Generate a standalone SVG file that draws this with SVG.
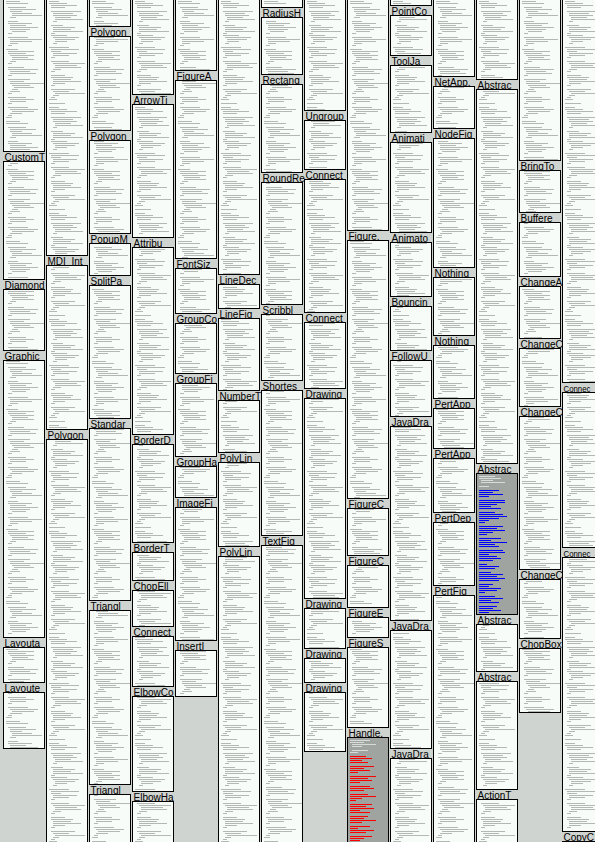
<svg xmlns="http://www.w3.org/2000/svg" width="595" height="842" viewBox="0 0 595 842">
<style>
.t{font-family:"Liberation Sans",Arial,sans-serif;font-size:10px;fill:#000}
.t9{font-family:"Liberation Sans",Arial,sans-serif;font-size:9px;fill:#000}
.b1{fill:url(#c1);stroke:#000;stroke-width:1}
.b2{fill:url(#c2);stroke:#000;stroke-width:1}
.hl{fill:#a0a4a0;stroke:#000;stroke-width:1}
.ll{fill:none;stroke:#d8dcd8;stroke-width:1}
</style>
<defs>
<pattern id="c1" patternUnits="userSpaceOnUse" x="3" y="0" width="43" height="120">
<rect width="43" height="120" fill="#f8fcf8"/>
<path fill="none" stroke="#b4b8b4" stroke-width="1" d="M3 1.5h14M3 3.5h22M5 7.5h18M7 9.5h26M7 11.5h12M9 13.5h20M9 15.5h30M7 17.5h6M5 21.5h10M5 23.5h24M7 25.5h16M7 27.5h28M7 29.5h20M9 31.5h14M5 33.5h4M5 37.5h20M7 39.5h32M7 41.5h22M7 43.5h8M5 45.5h4M3 49.5h12M5 51.5h26M5 53.5h18M7 55.5h24M9 57.5h16M9 59.5h22M7 61.5h6M5 63.5h4M5 67.5h16M5 69.5h30M7 71.5h20M7 73.5h26M5 75.5h4M5 79.5h22M7 81.5h14M7 83.5h34M9 85.5h18M11 87.5h20M9 89.5h6M7 91.5h10M5 93.5h4M5 97.5h18M7 99.5h24M7 101.5h16M5 103.5h4M5 107.5h20M7 109.5h28M9 111.5h22M7 113.5h12M5 115.5h4M3 117.5h6"/>
</pattern>
<pattern id="c2" patternUnits="userSpaceOnUse" x="3" y="0" width="43" height="106">
<rect width="43" height="106" fill="#f8fcf8"/>
<path fill="none" stroke="#b4b8b4" stroke-width="1" d="M3 1.5h10M3 3.5h18M5 5.5h26M5 7.5h14M5 11.5h30M7 13.5h20M7 15.5h24M9 17.5h16M9 19.5h28M7 21.5h4M5 25.5h12M7 27.5h22M7 29.5h18M7 31.5h30M5 33.5h4M5 35.5h16M7 37.5h26M9 39.5h20M9 41.5h12M7 43.5h4M3 47.5h20M5 49.5h28M5 51.5h10M7 53.5h24M7 55.5h16M5 57.5h4M5 61.5h18M7 63.5h32M9 65.5h22M9 67.5h26M7 69.5h8M5 71.5h4M5 75.5h14M5 77.5h22M7 79.5h18M7 81.5h28M7 83.5h12M5 85.5h4M5 89.5h24M7 91.5h16M9 93.5h30M7 95.5h6M5 97.5h4M3 99.5h8M3 103.5h16"/>
</pattern>
</defs>
<rect x="0" y="0" width="595" height="842" fill="#d0d4d0"/>

<g id="col1">
<g id="c1-top"><rect class="b1" x="3.5" y="-1.5" width="41" height="153"/></g>
<g id="c1-CustomT"><text class="t" x="4.5" y="161">CustomT</text><rect class="b1" x="3.5" y="161.5" width="41" height="118"/></g>
<g id="c1-Diamond"><text class="t" x="4.5" y="289">Diamond</text><rect class="b1" x="3.5" y="289.5" width="41" height="61"/></g>
<g id="c1-Graphic"><text class="t" x="4.5" y="360">Graphic</text><rect class="b1" x="3.5" y="360.5" width="41" height="277"/></g>
<g id="c1-Layouta"><text class="t" x="4.5" y="647">Layouta</text><rect class="b1" x="3.5" y="647.5" width="41" height="35"/></g>
<g id="c1-Layoute"><text class="t" x="4.5" y="692">Layoute</text><rect class="b1" x="3.5" y="692.5" width="41" height="56"/></g>
</g>

<g id="col2">
<g id="c2-top"><rect class="b2" x="46.5" y="-1.5" width="41" height="257"/></g>
<g id="c2-MDI_Int"><text class="t" x="47.5" y="265">MDI_Int</text><rect class="b2" x="46.5" y="265.5" width="41" height="164"/></g>
<g id="c2-Polygon"><text class="t" x="47.5" y="439">Polygon</text><rect class="b2" x="46.5" y="439.5" width="41" height="405"/></g>
</g>

<g id="col3">
<g id="c3-top"><rect class="b1" x="89.5" y="-1.5" width="41" height="28"/></g>
<g id="c3-Polygon1"><text class="t" x="90.5" y="36">Polygon</text><rect class="b1" x="89.5" y="36.5" width="41" height="94"/></g>
<g id="c3-Polygon2"><text class="t" x="90.5" y="140">Polygon</text><rect class="b1" x="89.5" y="140.5" width="41" height="93"/></g>
<g id="c3-PopupM"><text class="t" x="90.5" y="243">PopupM</text><rect class="b1" x="89.5" y="243.5" width="41" height="32"/></g>
<g id="c3-SplitPa"><text class="t" x="90.5" y="285">SplitPa</text><rect class="b1" x="89.5" y="285.5" width="41" height="133"/></g>
<g id="c3-Standar"><text class="t" x="90.5" y="428">Standar</text><rect class="b1" x="89.5" y="428.5" width="41" height="172"/></g>
<g id="c3-Triangl1"><text class="t" x="90.5" y="610">Triangl</text><rect class="b1" x="89.5" y="610.5" width="41" height="174"/></g>
<g id="c3-Triangl2"><text class="t" x="90.5" y="794">Triangl</text><rect class="b1" x="89.5" y="794.5" width="41" height="50"/></g>
</g>

<g id="col4">
<g id="c4-top"><rect class="b2" x="132.5" y="-1.5" width="41" height="96"/></g>
<g id="c4-ArrowTi"><text class="t" x="133.5" y="104">ArrowTi</text><rect class="b2" x="132.5" y="104.5" width="41" height="133"/></g>
<g id="c4-Attribu"><text class="t" x="133.5" y="247">Attribu</text><rect class="b2" x="132.5" y="247.5" width="41" height="187"/></g>
<g id="c4-BorderD"><text class="t" x="133.5" y="444">BorderD</text><rect class="b2" x="132.5" y="444.5" width="41" height="98"/></g>
<g id="c4-BorderT"><text class="t" x="133.5" y="552">BorderT</text><rect class="b2" x="132.5" y="552.5" width="41" height="28"/></g>
<g id="c4-ChopEll"><text class="t" x="133.5" y="590">ChopEll</text><rect class="b2" x="132.5" y="590.5" width="41" height="36"/></g>
<g id="c4-Connect"><text class="t" x="133.5" y="636">Connect</text><rect class="b2" x="132.5" y="636.5" width="41" height="50"/></g>
<g id="c4-ElbowCo"><text class="t" x="133.5" y="696">ElbowCo</text><rect class="b2" x="132.5" y="696.5" width="41" height="95"/></g>
<g id="c4-ElbowHa"><text class="t" x="133.5" y="801">ElbowHa</text><rect class="b2" x="132.5" y="801.5" width="41" height="43"/></g>
</g>

<g id="col5">
<g id="c5-top"><rect class="b1" x="175.5" y="-1.5" width="41" height="72"/></g>
<g id="c5-FigureA"><text class="t" x="176.5" y="80">FigureA</text><rect class="b1" x="175.5" y="80.5" width="41" height="178"/></g>
<g id="c5-FontSiz"><text class="t" x="176.5" y="268">FontSiz</text><rect class="b1" x="175.5" y="268.5" width="41" height="45"/></g>
<g id="c5-GroupCo"><text class="t" x="176.5" y="323">GroupCo</text><rect class="b1" x="175.5" y="323.5" width="41" height="50"/></g>
<g id="c5-GroupFi"><text class="t" x="176.5" y="383">GroupFi</text><rect class="b1" x="175.5" y="383.5" width="41" height="73"/></g>
<g id="c5-GroupHa"><text class="t" x="176.5" y="466">GroupHa</text><rect class="b1" x="175.5" y="466.5" width="41" height="31"/></g>
<g id="c5-ImageFi"><text class="t" x="176.5" y="507">ImageFi</text><rect class="b1" x="175.5" y="507.5" width="41" height="133"/></g>
<g id="c5-InsertI"><text class="t" x="176.5" y="650">InsertI</text><rect class="b1" x="175.5" y="650.5" width="41" height="46"/></g>
</g>

<g id="col6">
<g id="c6-top"><rect class="b2" x="218.5" y="-1.5" width="41" height="276"/></g>
<g id="c6-LineDec"><text class="t" x="219.5" y="284">LineDec</text><rect class="b2" x="218.5" y="284.5" width="41" height="24"/></g>
<g id="c6-LineFig"><text class="t" x="219.5" y="318">LineFig</text><rect class="b2" x="218.5" y="318.5" width="41" height="72"/></g>
<g id="c6-NumberT"><text class="t" x="219.5" y="400">NumberT</text><rect class="b2" x="218.5" y="400.5" width="41" height="52"/></g>
<g id="c6-PolyLin1"><text class="t" x="219.5" y="462">PolyLin</text><rect class="b2" x="218.5" y="462.5" width="41" height="84"/></g>
<g id="c6-PolyLin2"><text class="t" x="219.5" y="556">PolyLin</text><rect class="b2" x="218.5" y="556.5" width="41" height="288"/></g>
</g>

<g id="col7">
<g id="c7-top"><rect class="b1" x="261.5" y="-1.5" width="41" height="9"/></g>
<g id="c7-RadiusH"><text class="t" x="262.5" y="17">RadiusH</text><rect class="b1" x="261.5" y="17.5" width="41" height="57"/></g>
<g id="c7-Rectang"><text class="t" x="262.5" y="84">Rectang</text><rect class="b1" x="261.5" y="84.5" width="41" height="88"/></g>
<g id="c7-RoundRe"><text class="t" x="262.5" y="182">RoundRe</text><rect class="b1" x="261.5" y="182.5" width="41" height="122"/></g>
<g id="c7-Scribbl"><text class="t" x="262.5" y="314">Scribbl</text><rect class="b1" x="261.5" y="314.5" width="41" height="66"/></g>
<g id="c7-Shortes"><text class="t" x="262.5" y="390">Shortes</text><rect class="b1" x="261.5" y="390.5" width="41" height="145"/></g>
<g id="c7-TextFig"><text class="t" x="262.5" y="545">TextFig</text><rect class="b1" x="261.5" y="545.5" width="41" height="299"/></g>
</g>

<g id="col8">
<g id="c8-top"><rect class="b2" x="304.5" y="-1.5" width="41" height="112"/></g>
<g id="c8-Ungroup"><text class="t" x="305.5" y="120">Ungroup</text><rect class="b2" x="304.5" y="120.5" width="41" height="49"/></g>
<g id="c8-Connect1"><text class="t" x="305.5" y="179">Connect</text><rect class="b2" x="304.5" y="179.5" width="41" height="133"/></g>
<g id="c8-Connect2"><text class="t" x="305.5" y="322">Connect</text><rect class="b2" x="304.5" y="322.5" width="41" height="66"/></g>
<g id="c8-Drawing1"><text class="t" x="305.5" y="398">Drawing</text><rect class="b2" x="304.5" y="398.5" width="41" height="200"/></g>
<g id="c8-Drawing2"><text class="t" x="305.5" y="608">Drawing</text><rect class="b2" x="304.5" y="608.5" width="41" height="40"/></g>
<g id="c8-Drawing3"><text class="t" x="305.5" y="658">Drawing</text><rect class="b2" x="304.5" y="658.5" width="41" height="24"/></g>
<g id="c8-Drawing4"><text class="t" x="305.5" y="692">Drawing</text><rect class="b2" x="304.5" y="692.5" width="41" height="59"/></g>
</g>

<g id="col9">
<g id="c9-top"><rect class="b1" x="347.5" y="-1.5" width="41" height="232"/></g>
<g id="c9-Figure"><text class="t" x="348.5" y="240">Figure.</text><rect class="b1" x="347.5" y="240.5" width="41" height="258"/></g>
<g id="c9-FigureC1"><text class="t" x="348.5" y="508">FigureC</text><rect class="b1" x="347.5" y="508.5" width="41" height="47"/></g>
<g id="c9-FigureC2"><text class="t" x="348.5" y="565">FigureC</text><rect class="b1" x="347.5" y="565.5" width="41" height="42"/></g>
<g id="c9-FigureE"><text class="t" x="348.5" y="617">FigureE</text><rect class="b1" x="347.5" y="617.5" width="41" height="20"/></g>
<g id="c9-FigureS"><text class="t" x="348.5" y="647">FigureS</text><rect class="b1" x="347.5" y="647.5" width="41" height="80"/></g>
<g id="c9-Handle"><text class="t" x="348.5" y="737">Handle.</text><rect class="hl" x="347.5" y="737.5" width="41" height="107"/>
<path class="ll" d="M350 740.5h20M350 742.5h14M352 744.5h24M352 746.5h10M352 750.5h16M350 752.5h8"/>
<path fill="none" stroke="#ff0000" stroke-width="1" d="M350 756.5h16M350 758.5h22M350 760.5h12M350 762.5h18M350 766.5h24M350 768.5h14M350 770.5h20M350 772.5h8M350 776.5h26M350 778.5h18M350 780.5h22M350 782.5h10M350 786.5h20M350 788.5h24M350 790.5h14M350 794.5h18M350 796.5h26M350 798.5h12M350 800.5h6M350 804.5h22M350 806.5h16M350 808.5h24M350 810.5h10M350 812.5h20M350 816.5h18M350 818.5h14M350 820.5h26M350 822.5h12M350 826.5h20M350 828.5h8M350 830.5h24M350 832.5h16M350 836.5h22M350 838.5h14M350 840.5h10"/></g>
</g>

<g id="col10">
<g id="c10-top"><rect class="b2" x="390.5" y="-1.5" width="41" height="7"/></g>
<g id="c10-PointCo"><text class="t" x="391.5" y="15">PointCo</text><rect class="b2" x="390.5" y="15.5" width="41" height="40"/></g>
<g id="c10-ToolJa"><text class="t" x="391.5" y="65">ToolJa</text><rect class="b2" x="390.5" y="65.5" width="41" height="67"/></g>
<g id="c10-Animati"><text class="t" x="391.5" y="142">Animati</text><rect class="b2" x="390.5" y="142.5" width="41" height="90"/></g>
<g id="c10-Animato"><text class="t" x="391.5" y="242">Animato</text><rect class="b2" x="390.5" y="242.5" width="41" height="54"/></g>
<g id="c10-Bouncin"><text class="t" x="391.5" y="306">Bouncin</text><rect class="b2" x="390.5" y="306.5" width="41" height="44"/></g>
<g id="c10-FollowU"><text class="t" x="391.5" y="360">FollowU</text><rect class="b2" x="390.5" y="360.5" width="41" height="56"/></g>
<g id="c10-JavaDra1"><text class="t" x="391.5" y="426">JavaDra</text><rect class="b2" x="390.5" y="426.5" width="41" height="194"/></g>
<g id="c10-JavaDra2"><text class="t" x="391.5" y="630">JavaDra</text><rect class="b2" x="390.5" y="630.5" width="41" height="118"/></g>
<g id="c10-JavaDra3"><text class="t" x="391.5" y="758">JavaDra</text><rect class="b2" x="390.5" y="758.5" width="41" height="86"/></g>
</g>

<g id="col11">
<g id="c11-top"><rect class="b1" x="433.5" y="-1.5" width="41" height="78"/></g>
<g id="c11-NetApp"><text class="t" x="434.5" y="86">NetApp.</text><rect class="b1" x="433.5" y="86.5" width="41" height="42"/></g>
<g id="c11-NodeFig"><text class="t" x="434.5" y="138">NodeFig</text><rect class="b1" x="433.5" y="138.5" width="41" height="129"/></g>
<g id="c11-Nothing1"><text class="t" x="434.5" y="277">Nothing</text><rect class="b1" x="433.5" y="277.5" width="41" height="58"/></g>
<g id="c11-Nothing2"><text class="t" x="434.5" y="345">Nothing</text><rect class="b1" x="433.5" y="345.5" width="41" height="53"/></g>
<g id="c11-PertApp1"><text class="t" x="434.5" y="408">PertApp</text><rect class="b1" x="433.5" y="408.5" width="41" height="40"/></g>
<g id="c11-PertApp2"><text class="t" x="434.5" y="458">PertApp</text><rect class="b1" x="433.5" y="458.5" width="41" height="54"/></g>
<g id="c11-PertDep"><text class="t" x="434.5" y="522">PertDep</text><rect class="b1" x="433.5" y="522.5" width="41" height="63"/></g>
<g id="c11-PertFig"><text class="t" x="434.5" y="595">PertFig</text><rect class="b1" x="433.5" y="595.5" width="41" height="249"/></g>
</g>

<g id="col12">
<g id="c12-top"><rect class="b2" x="476.5" y="-1.5" width="41" height="81"/></g>
<g id="c12-Abstrac1"><text class="t" x="477.5" y="89">Abstrac</text><rect class="b2" x="476.5" y="89.5" width="41" height="374"/></g>
<g id="c12-Abstrac2"><text class="t" x="477.5" y="473">Abstrac</text><rect class="hl" x="476.5" y="473.5" width="41" height="141"/>
<path class="ll" d="M479 476.5h16M479 478.5h22M481 480.5h12M481 482.5h24M479 486.5h10"/>
<path fill="none" stroke="#0000ff" stroke-width="1" d="M479 490.5h20M479 492.5h14M479 494.5h24M479 496.5h10M479 500.5h26M479 502.5h26M479 504.5h18M479 506.5h12M479 508.5h22M479 512.5h16M479 514.5h24M479 516.5h28M479 518.5h20M479 520.5h10M479 522.5h6M479 526.5h24M479 528.5h18M479 530.5h26M479 532.5h14M479 534.5h8M479 538.5h22M479 540.5h12M479 542.5h28M479 544.5h16M479 546.5h20M479 550.5h24M479 552.5h26M479 554.5h10M479 556.5h18M479 558.5h22M479 560.5h14M479 564.5h8M479 566.5h20M479 568.5h16M479 572.5h12M479 574.5h24M479 576.5h18M479 578.5h26M479 580.5h20M479 584.5h14M479 586.5h10M479 588.5h22M479 590.5h18M479 592.5h6M479 596.5h16M479 598.5h24M479 600.5h12M479 602.5h20M479 606.5h18M479 608.5h14M479 610.5h22M479 612.5h10"/></g>
<g id="c12-Abstrac3"><text class="t" x="477.5" y="624">Abstrac</text><rect class="b2" x="476.5" y="624.5" width="41" height="47"/></g>
<g id="c12-Abstrac4"><text class="t" x="477.5" y="681">Abstrac</text><rect class="b2" x="476.5" y="681.5" width="41" height="108"/></g>
<g id="c12-ActionT"><text class="t" x="477.5" y="799">ActionT</text><rect class="b2" x="476.5" y="799.5" width="41" height="45"/></g>
</g>

<g id="col13">
<g id="c13-top"><rect class="b1" x="519.5" y="-1.5" width="41" height="162"/></g>
<g id="c13-BringTo"><text class="t" x="520.5" y="170">BringTo</text><rect class="b1" x="519.5" y="170.5" width="41" height="42"/></g>
<g id="c13-Buffere"><text class="t" x="520.5" y="222">Buffere</text><rect class="b1" x="519.5" y="222.5" width="41" height="54"/></g>
<g id="c13-ChangeA"><text class="t" x="520.5" y="286">ChangeA</text><rect class="b1" x="519.5" y="286.5" width="41" height="52"/></g>
<g id="c13-ChangeC1"><text class="t" x="520.5" y="348">ChangeC</text><rect class="b1" x="519.5" y="348.5" width="41" height="58"/></g>
<g id="c13-ChangeC2"><text class="t" x="520.5" y="416">ChangeC</text><rect class="b1" x="519.5" y="416.5" width="41" height="153"/></g>
<g id="c13-ChangeC3"><text class="t" x="520.5" y="579">ChangeC</text><rect class="b1" x="519.5" y="579.5" width="41" height="59"/></g>
<g id="c13-ChopBox"><text class="t" x="520.5" y="648">ChopBox</text><rect class="b1" x="519.5" y="648.5" width="41" height="64"/></g>
</g>

<g id="col14">
<g id="c14-top"><rect class="b2" x="562.5" y="-1.5" width="41" height="384"/></g>
<g id="c14-Connec1"><text class="t9" x="563.5" y="392" textLength="27" lengthAdjust="spacingAndGlyphs">Connec</text><rect class="b2" x="562.5" y="392.5" width="41" height="155"/></g>
<g id="c14-Connec2"><text class="t9" x="563.5" y="557" textLength="27" lengthAdjust="spacingAndGlyphs">Connec</text><rect class="b2" x="562.5" y="557.5" width="41" height="274"/></g>
<g id="c14-CopyC"><text class="t" x="563.5" y="841">CopyC</text><rect class="b2" x="562.5" y="841.5" width="41" height="5"/></g>
</g>
</svg>
